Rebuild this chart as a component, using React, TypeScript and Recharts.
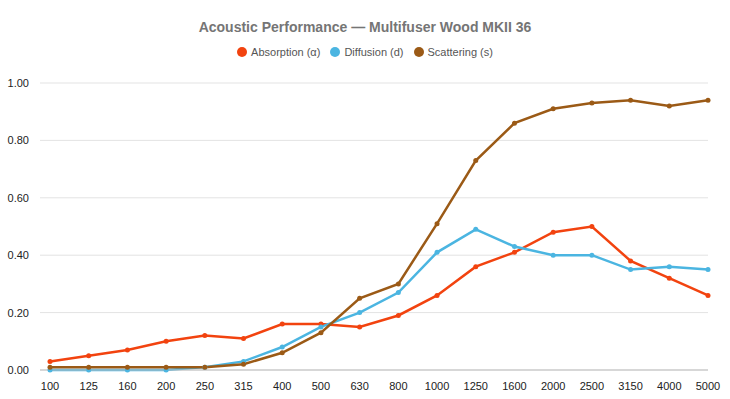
import { LineChart, Line, XAxis, YAxis, CartesianGrid } from "recharts";

const frequencies = ["100", "125", "160", "200", "250", "315", "400", "500", "630", "800", "1000", "1250", "1600", "2000", "2500", "3150", "4000", "5000"];
const absorption = [0.03, 0.05, 0.07, 0.1, 0.12, 0.11, 0.16, 0.16, 0.15, 0.19, 0.26, 0.36, 0.41, 0.48, 0.5, 0.38, 0.32, 0.26];
const diffusion = [0, 0, 0, 0, 0.01, 0.03, 0.08, 0.15, 0.2, 0.27, 0.41, 0.49, 0.43, 0.4, 0.4, 0.35, 0.36, 0.35];
const scattering = [0.01, 0.01, 0.01, 0.01, 0.01, 0.02, 0.06, 0.13, 0.25, 0.3, 0.51, 0.73, 0.86, 0.91, 0.93, 0.94, 0.92, 0.94];
const yTicks = [0, 0.2, 0.4, 0.6, 0.8, 1.0];

const series = [
  { key: "absorption", name: "Absorption (α)", color: "#f2430f" },
  { key: "diffusion", name: "Diffusion (d)", color: "#4bb5e1" },
  { key: "scattering", name: "Scattering (s)", color: "#9b5a16" },
];

const data = frequencies.map((f, i) => ({
  freq: f,
  absorption: absorption[i],
  diffusion: diffusion[i],
  scattering: scattering[i],
}));

const font = "'Liberation Sans', Arial, sans-serif";

export default function App() {
  return (
    <div style={{ position: "absolute", left: 0, top: 0, width: 730, height: 399, background: "#fff", fontFamily: font }}>
      <div
        style={{
          position: "absolute",
          top: 19,
          left: 0,
          width: 730,
          textAlign: "center",
          fontSize: 14,
          fontWeight: "bold",
          color: "#757575",
        }}
      >
        Acoustic Performance — Multifuser Wood MKII 36
      </div>
      <div
        style={{
          position: "absolute",
          top: 46,
          left: 0,
          width: 730,
          display: "flex",
          justifyContent: "center",
          gap: 10,
          fontSize: 11,
          color: "#555",
        }}
      >
        {series.map((s) => (
          <span key={s.key} style={{ display: "flex", alignItems: "center", gap: 4 }}>
            <span style={{ width: 10, height: 10, borderRadius: "50%", background: s.color, display: "inline-block" }} />
            {s.name}
          </span>
        ))}
      </div>
      <LineChart
        width={730}
        height={399}
        data={data}
        margin={{ top: 83, right: 22, left: 0, bottom: 0 }}
        style={{ position: "absolute", left: 0, top: 0 }}
      >
        <CartesianGrid vertical={false} stroke="#e3e3e3" />
        <XAxis
          dataKey="freq"
          height={29}
          interval={0}
          tickLine={false}
          tickMargin={6}
          padding={{ left: 10, right: 0 }}
          axisLine={{ stroke: "#bdbdbd" }}
          tick={{ fontSize: 11, fill: "#222", fontFamily: font }}
        />
        <YAxis
          width={40}
          domain={[0, 1]}
          ticks={yTicks}
          tickFormatter={(v: number) => v.toFixed(2)}
          axisLine={false}
          tickLine={false}
          tickMargin={5}
          tick={{ fontSize: 11, fill: "#222", fontFamily: font }}
        />
        {series.map((s) => (
          <Line
            key={s.key}
            dataKey={s.key}
            name={s.name}
            type="linear"
            stroke={s.color}
            strokeWidth={2.5}
            dot={{ r: 2.5, fill: s.color, stroke: s.color, strokeWidth: 0 }}
            isAnimationActive={false}
          />
        ))}
      </LineChart>
    </div>
  );
}
